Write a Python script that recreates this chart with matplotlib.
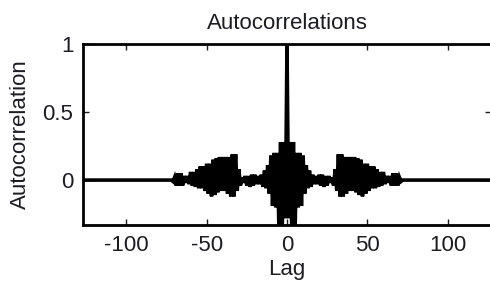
import numpy as np
import matplotlib
matplotlib.use("Agg")
import matplotlib.pyplot as plt

plt.rcParams['font.family'] = ['Liberation Sans', 'DejaVu Sans']
plt.rcParams['axes.unicode_minus'] = False

# Autocorrelation values for positive lags 1..72; lag 0 = 1
r0 = 1.0
r_pos = [-0.28, 0.28, -0.38, 0.28, -0.38, 0.20, -0.20, 0.20, -0.19, 0.18,
         -0.10, 0.11, -0.06, 0.07, -0.05, 0.04, -0.03, 0.03, -0.03, 0.04,
         -0.04, 0.04, -0.05, 0.03, -0.04, 0.03, -0.02, 0.02, -0.04, 0.08,
         -0.08, 0.19, -0.12, 0.19, -0.12, 0.17, -0.10, 0.17, -0.08, 0.17,
         -0.08, 0.17, -0.09, 0.16, -0.11, 0.15, -0.12, 0.12, -0.10, 0.12,
         -0.08, 0.10, -0.06, 0.10, -0.06, 0.08, -0.05, 0.06, -0.04, 0.06,
         -0.03, 0.03, -0.02, 0.03, -0.04, 0.05, -0.04, 0.05, -0.04, 0.02,
         -0.01, 0.0]
max_lag = 127
n_zero = max_lag - len(r_pos)

xticks = [-100, -50, 0, 50, 100]
yticks = [0, 0.5, 1]
ytick_labels = ['0', '0.5', '1']

pos = np.array(r_pos + [0.0] * n_zero)
acf = np.concatenate([pos[::-1], [r0], pos])
lags = np.arange(-max_lag, max_lag + 1)

txt = '#1c1c24'
fs = 16

fig = plt.figure(figsize=(4.9, 2.89), dpi=100)
ax = fig.add_axes([83/490, 1-225/289, (491-83)/490, (225-44)/289])
ax.plot(lags, acf, color='black', linewidth=2.6, solid_joinstyle='miter')
ax.set_xlim(-127, 127)
ax.set_ylim(-0.33, 1.0)
ax.set_xticks(xticks)
ax.set_yticks(yticks)
ax.set_yticklabels(ytick_labels)
ax.tick_params(direction='in', length=4, width=1, top=True, right=True,
               labelsize=fs, pad=7, colors=txt)
for s in ax.spines.values():
    s.set_linewidth(2.0)
    s.set_color('black')
ax.set_title('Autocorrelations', fontsize=fs, pad=11, color=txt)
ax.set_xlabel('Lag', fontsize=fs, labelpad=2, color=txt)
ax.set_ylabel('Autocorrelation', fontsize=fs, labelpad=8, color=txt)

fig.savefig('out.png', dpi=100)
